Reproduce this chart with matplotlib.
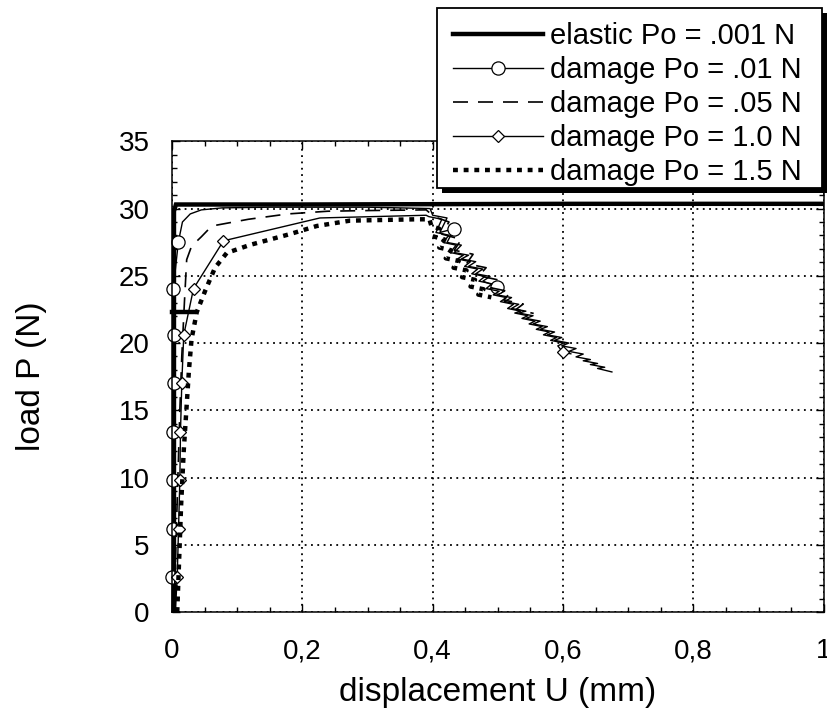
import matplotlib
matplotlib.use("Agg")
import matplotlib.pyplot as plt
from matplotlib.patches import Rectangle
from matplotlib.ticker import MultipleLocator, FixedLocator

plt.rcParams["font.family"] = ["Liberation Sans", "DejaVu Sans"]

# elastic Po = .001 N
el_x = [0.003, 0.003, 0.006, 0.2, 0.6, 1.0]
el_y = [0.0, 29.8, 30.3, 30.3, 30.35, 30.35]
# short thick stub drawn near the axis at ~22 N
stub_x = [0.0, 0.033]
stub_y = [22.3, 22.3]

# damage Po = .01 N (circles): rise, plateau, then jagged softening branch
d01_x = [0.0, 0.0005, 0.001, 0.0015, 0.002, 0.0025, 0.003, 0.002, 0.0097, 0.016, 0.028,
         0.045, 0.077, 0.15, 0.3, 0.396,
         0.400, 0.422, 0.411, 0.433, 0.422, 0.444, 0.433, 0.455, 0.444, 0.466,
         0.455, 0.477, 0.466, 0.488, 0.477, 0.499, 0.488, 0.510, 0.499, 0.521,
         0.510, 0.532, 0.521, 0.543, 0.532, 0.554, 0.543, 0.565, 0.554, 0.576,
         0.565, 0.587, 0.576, 0.598, 0.587, 0.609, 0.598, 0.620, 0.609, 0.631,
         0.620, 0.642, 0.631, 0.653, 0.642, 0.664, 0.653, 0.675]
d01_y = [0.0, 2.6, 6.2, 9.8, 13.4, 17.0, 20.6, 24.05, 27.5, 29.0, 29.6,
         29.9, 30.05, 30.1, 30.1, 30.0,
         29.5, 29.3, 28.22, 28.5, 27.48, 27.28, 26.73, 26.53, 26.25, 26.05,
         25.70, 25.50, 25.15, 24.95, 24.60, 24.20, 24.05, 23.85, 23.58, 23.38,
         23.08, 22.88, 22.57, 22.37, 22.23, 22.03, 21.83, 21.63, 21.42, 21.22,
         21.02, 20.82, 20.61, 20.41, 20.20, 20.00, 19.79, 19.59, 19.38, 19.18,
         18.97, 18.77, 18.68, 18.48, 18.40, 18.20, 18.11, 17.85]
d01_marks = [1, 2, 3, 4, 5, 6, 7, 8, 19, 31]

# damage Po = .05 N (dashed)
d05_x = [0.003, 0.006, 0.009, 0.012, 0.015, 0.019, 0.0225, 0.03, 0.045, 0.061, 0.117,
         0.178, 0.239, 0.30, 0.39,
         0.402, 0.425, 0.414, 0.444, 0.433, 0.462, 0.452, 0.482, 0.471, 0.500, 0.490,
         0.520, 0.509, 0.539, 0.528, 0.555]
d05_y = [0.0, 5.0, 10.0, 15.0, 19.0, 23.0, 26.2, 27.2, 27.9, 28.7, 29.2,
         29.6, 29.8, 29.85, 29.9,
         29.4, 29.0, 28.1, 27.7, 26.9, 26.6, 25.9, 25.6, 25.0, 24.7, 24.1,
         23.8, 23.2, 22.9, 22.5, 22.2]

# damage Po = 1.0 N (diamonds)
d10_x = [0.005, 0.008, 0.010, 0.012, 0.013, 0.015, 0.018, 0.033, 0.079, 0.227, 0.39,
         0.394, 0.414, 0.405, 0.425, 0.416, 0.436, 0.427, 0.447, 0.438, 0.458,
         0.449, 0.469, 0.460, 0.480, 0.471, 0.491, 0.482, 0.502, 0.493, 0.513,
         0.504, 0.524, 0.515, 0.535, 0.526, 0.546, 0.537, 0.557, 0.548, 0.568,
         0.559, 0.579, 0.570, 0.590, 0.581, 0.601, 0.592, 0.600, 0.612]
d10_y = [0.0, 2.6, 6.2, 9.8, 13.4, 17.0, 20.6, 24.05, 27.6, 29.3, 29.5,
         29.4, 29.2, 28.22, 28.02, 27.48, 27.28, 26.73, 26.53, 26.25, 26.05,
         25.70, 25.50, 25.15, 24.95, 24.60, 24.40, 24.05, 23.85, 23.58, 23.38,
         23.08, 22.88, 22.57, 22.37, 22.23, 22.03, 21.83, 21.63, 21.42, 21.22,
         21.02, 20.82, 20.61, 20.41, 20.20, 20.00, 19.79, 19.3, 19.2]
d10_marks = [1, 2, 3, 4, 5, 6, 7, 8, 48]

# damage Po = 1.5 N (dotted)
d15_x = [0.008, 0.011, 0.014, 0.018, 0.022, 0.026, 0.030, 0.038, 0.051, 0.066, 0.084,
         0.12, 0.181, 0.222, 0.273, 0.375, 0.395,
         0.398, 0.410, 0.403, 0.418, 0.410, 0.428, 0.420, 0.440, 0.432, 0.452,
         0.445, 0.465, 0.458, 0.478, 0.470, 0.490]
d15_y = [0.0, 4.0, 8.0, 12.0, 15.0, 18.0, 20.3, 22.3, 23.9, 25.6, 26.7,
         27.3, 28.1, 28.7, 29.1, 29.2, 29.2,
         28.7, 28.5, 27.9, 27.7, 27.1, 26.9, 26.3, 26.1, 25.6, 25.4,
         24.9, 24.7, 24.2, 24.0, 23.6, 23.4]

x_ticks = [0, 0.2, 0.4, 0.6, 0.8, 1.0]
x_labels = ["0", "0,2", "0,4", "0,6", "0,8", "1"]
y_ticks = [0, 5, 10, 15, 20, 25, 30, 35]

W, H = 827, 710
fig = plt.figure(figsize=(W / 100, H / 100), dpi=100)
ax = fig.add_axes([0.208, 0.138, 0.788, 0.663])

ax.plot(el_x, el_y, "k-", lw=3.2, label="elastic Po = .001 N", solid_joinstyle="miter")
ax.plot(stub_x, stub_y, "k-", lw=3.2, clip_on=False)
ax.plot(d01_x, d01_y, "k-", lw=1.0, marker="o", ms=9.5, mfc="white", mec="k", mew=0.9,
        markevery=d01_marks, label="damage Po = .01 N", clip_on=False)
ax.plot(d05_x, d05_y, color="k", lw=1.2, dashes=(9, 6), label="damage Po = .05 N")
ax.plot(d10_x, d10_y, "k-", lw=1.0, marker="D", ms=6.5, mfc="white", mec="k", mew=0.9,
        markevery=d10_marks, label="damage Po = 1.0 N", clip_on=False)
ax.plot(d15_x, d15_y, color="k", lw=3.2, dashes=(1.1, 1.3), dash_capstyle="butt",
        label="damage Po = 1.5 N")

ax.set_xlim(0, 1)
ax.set_ylim(0, 35)
ax.xaxis.set_major_locator(FixedLocator(x_ticks))
ax.set_xticklabels(x_labels)
ax.xaxis.set_minor_locator(MultipleLocator(0.05))
ax.yaxis.set_major_locator(FixedLocator(y_ticks))
ax.yaxis.set_minor_locator(MultipleLocator(1))
ax.tick_params(which="both", direction="in", top=True, right=True, width=1.0, colors="k")
ax.tick_params(which="major", length=6)
ax.tick_params(which="minor", length=3.5)
ax.tick_params(axis="x", which="major", labelsize=20, pad=19)
ax.tick_params(axis="y", which="major", labelsize=20, pad=16)
for sp in ax.spines.values():
    sp.set_linewidth(1.1)
ax.grid(True, which="major", color="k", lw=1.3, linestyle=(0, (1, 2.5)))
ax.set_axisbelow(True)

ax.set_xlabel("displacement U (mm)", fontsize=24)
ax.set_ylabel("load P (N)", fontsize=24)
ax.xaxis.set_label_coords(0.5, -0.137)
ax.yaxis.set_label_coords(-0.192, 0.5)

# legend box with a hard black drop shadow
box = (437, 8, 822, 188)
shadow = Rectangle(((box[0] + 5) / W, 1 - (box[3] + 5) / H), (box[2] - box[0]) / W,
                   (box[3] - box[1]) / H, transform=fig.transFigure,
                   fc="k", ec="k", lw=0, zorder=3.8)
frame = Rectangle((box[0] / W, 1 - box[3] / H), (box[2] - box[0]) / W,
                  (box[3] - box[1]) / H, transform=fig.transFigure,
                  fc="white", ec="k", lw=1.3, zorder=3.9)
fig.add_artist(shadow)
fig.add_artist(frame)

leg = fig.legend(loc="upper right", bbox_to_anchor=(802 / W, 1 - 22 / H),
                 fontsize=21, frameon=False, borderaxespad=0, borderpad=0,
                 labelspacing=0.21, handlelength=3.1, handletextpad=0.25)
leg.set_zorder(5)

fig.savefig("out.png", dpi=100)
